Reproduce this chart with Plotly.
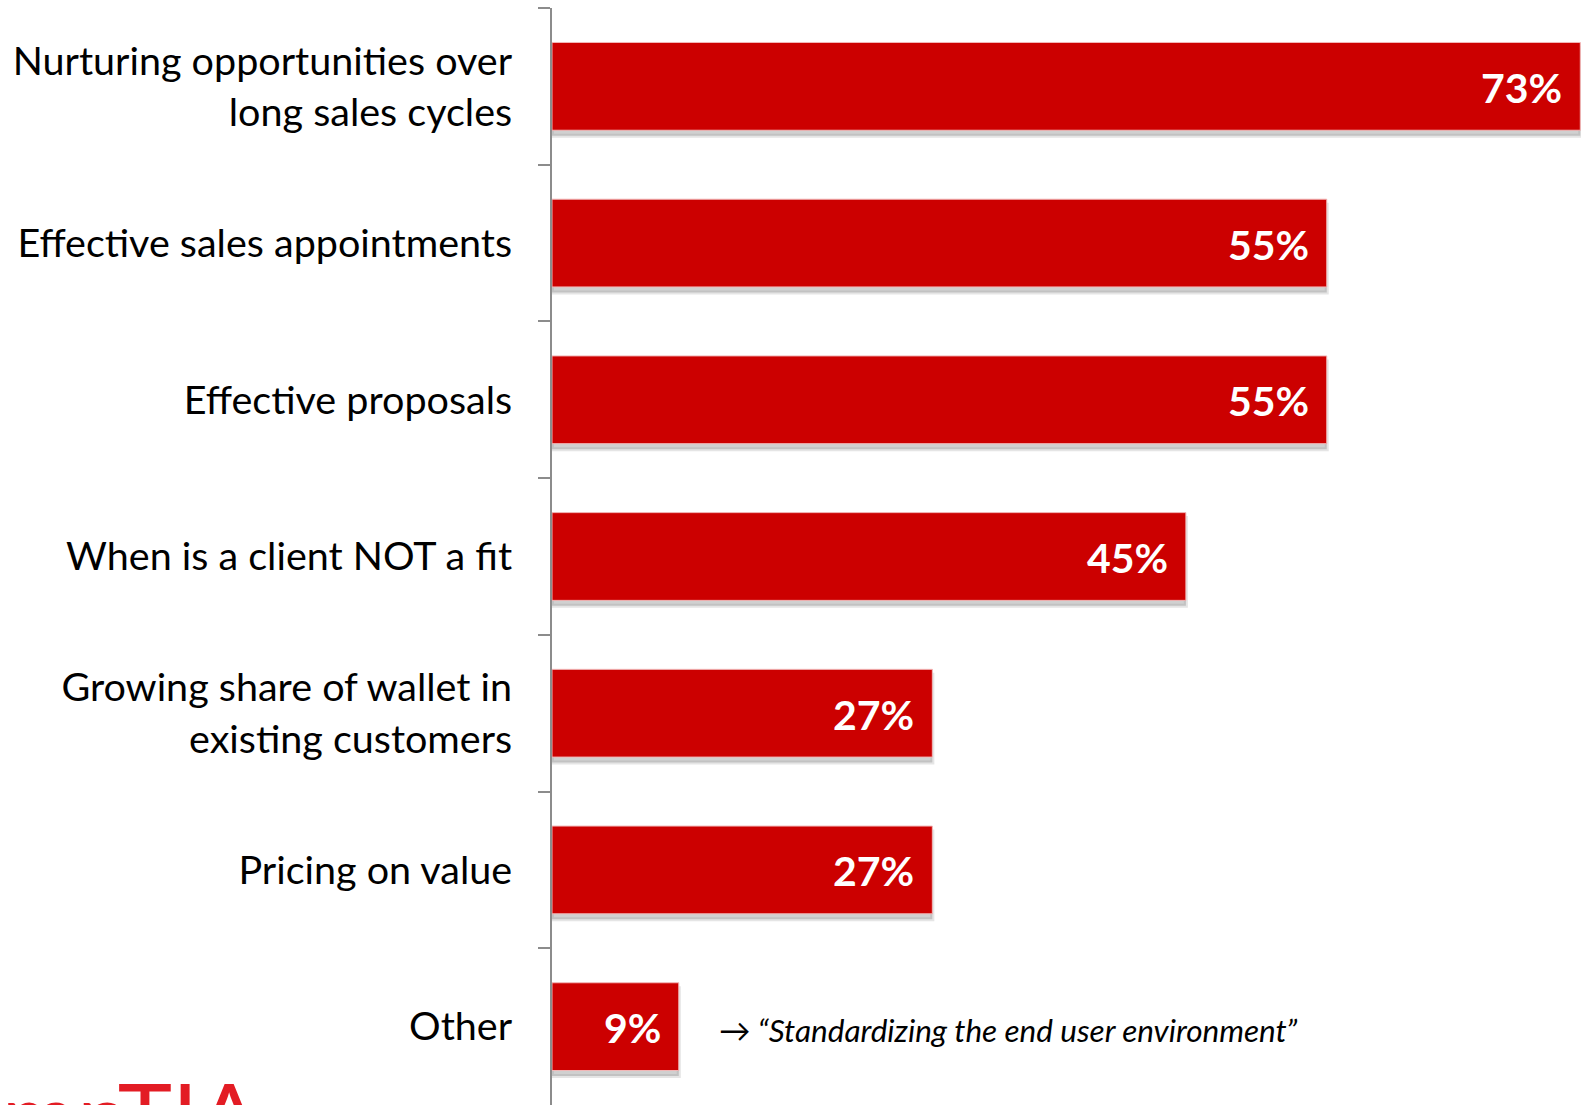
import plotly.graph_objects as go

# Survey results: areas where sales training is most wanted
categories = [
    "Nurturing opportunities over<br>long sales cycles",
    "Effective sales appointments",
    "Effective proposals",
    "When is a client NOT a fit",
    "Growing share of wallet in<br>existing customers",
    "Pricing on value",
    "Other",
]
values = [73, 55, 55, 45, 27, 27, 9]
value_labels = [f"{v}%" for v in values]
other_note = "\u2192 \u201cStandardizing the end user environment\u201d"

BAR_RED = "#CC0000"
BAR_WIDTH = 0.56

fig = go.Figure()

# soft drop shadow under each bar
fig.add_trace(go.Bar(
    x=values, y=categories, orientation="h",
    width=BAR_WIDTH, offset=-BAR_WIDTH / 2 + 0.035,
    marker=dict(color="rgba(120,120,120,0.35)",
                line=dict(color="rgba(150,150,150,0.25)", width=4)),
    hoverinfo="skip", showlegend=False,
))

# main bars
fig.add_trace(go.Bar(
    x=values, y=categories, orientation="h",
    width=BAR_WIDTH, offset=-BAR_WIDTH / 2,
    marker=dict(color=BAR_RED, line=dict(color="#F2B8B8", width=1)),
    showlegend=False,
))

# value labels inside the bar ends
for cat, v, lab in zip(categories, values, value_labels):
    fig.add_annotation(
        x=v, y=cat, xref="x", yref="y", text=f"<b>{lab}</b>",
        showarrow=False, xanchor="right", yanchor="middle", xshift=-16, yshift=-1,
        font=dict(family="Lato", size=41, color="white"),
    )

# note next to the "Other" bar
fig.add_annotation(
    x=values[-1], y=categories[-1], xref="x", yref="y",
    text=f"<i>{other_note}</i>", showarrow=False,
    xanchor="left", yanchor="middle", xshift=38, yshift=-3,
    font=dict(family="Lato", size=31.5, color="black"),
)

# partly visible company logo in the lower-left corner
fig.add_annotation(
    x=-0.281, y=0.045, xref="paper", yref="paper",
    text="CompTIA", showarrow=False,
    xanchor="right", yanchor="top",
    font=dict(family="Lato", size=92, color="#E31C24"),
)

fig.update_layout(
    width=1582, height=1105,
    margin=dict(l=552, r=1, t=8, b=0),
    paper_bgcolor="white", plot_bgcolor="white",
    barmode="overlay",
    bargap=0.44,
    font=dict(family="Lato", color="black"),
)
fig.update_xaxes(
    range=[0, 73.05], visible=False, fixedrange=True,
)
fig.update_yaxes(
    categoryorder="array", categoryarray=categories, autorange="reversed",
    showline=True, linecolor="#8C8C8C", linewidth=2,
    ticks="outside", ticklen=12, tickcolor="#8C8C8C", tickwidth=2,
    tickson="boundaries", showgrid=False,
    tickfont=dict(family="Lato", size=39.5, color="black"),
    ticklabelstandoff=30,
)

fig.write_html("out.html")
